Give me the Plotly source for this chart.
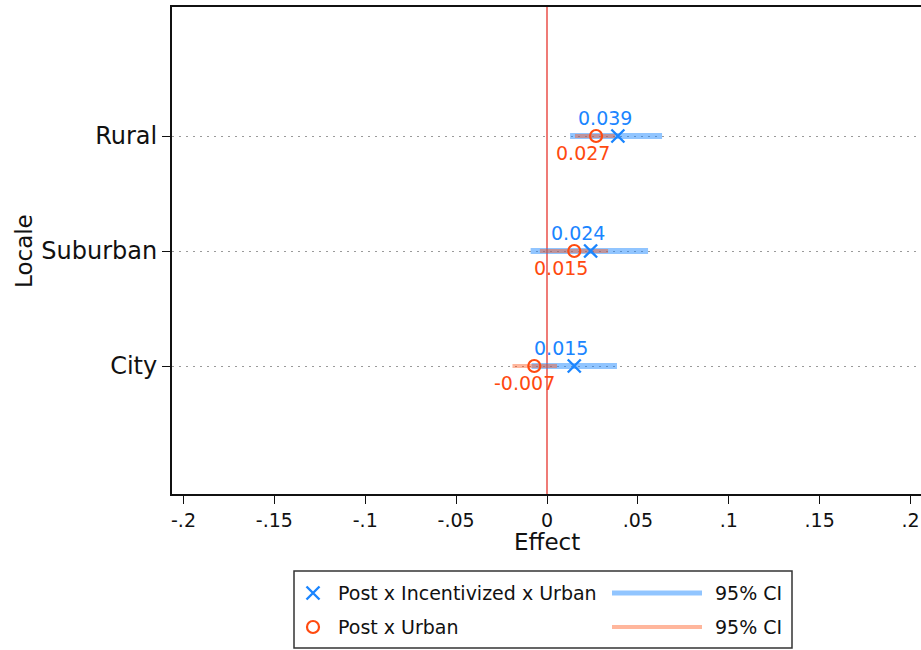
import plotly.graph_objects as go

# Coefficient estimates by locale, with 95% confidence bounds
locales = ["City", "Suburban", "Rural"]
locale_pos = [1, 2, 3]

incent_est = [0.015, 0.024, 0.039]
incent_lo = [-0.0085, -0.009, 0.0127]
incent_hi = [0.0385, 0.0556, 0.0633]

urban_est = [-0.007, 0.015, 0.027]
urban_lo = [-0.019, -0.0039, 0.0154]
urban_hi = [0.0055, 0.0336, 0.0374]

x_ticks = [-0.2, -0.15, -0.1, -0.05, 0, 0.05, 0.1, 0.15, 0.2]
x_tick_text = ["-.2", "-.15", "-.1", "-.05", "0", ".05", ".1", ".15", ".2"]
reference_x = 0

series_names = ["Post x Incentivized x Urban", "Post x Urban"]
ci_name = "95% CI"

BLUE = "#1a85ff"
BLUE_CI = "rgba(26,133,255,0.48)"
ORANGE = "#ff4a0f"
ORANGE_CI = "rgba(255,80,20,0.42)"
FONT = "DejaVu Sans"

W, H = 921, 650
# plot area in pixels
PL, PR, PT, PB = 172, 921, 7, 494


def segments(lo, hi, ys):
    xs, yy = [], []
    for a, b, y in zip(lo, hi, ys):
        xs += [a, b, None]
        yy += [y, y, None]
    return xs, yy


fig = go.Figure()

# vertical reference line at zero effect
fig.add_shape(type="line", xref="x", yref="y domain", x0=reference_x, x1=reference_x,
              y0=0, y1=1, line=dict(color="#e4241c", width=1.2), layer="below")

bx, by = segments(incent_lo, incent_hi, locale_pos)
fig.add_trace(go.Scatter(x=bx, y=by, mode="lines",
                         line=dict(color=BLUE_CI, width=6), hoverinfo="skip"))
ox, oy = segments(urban_lo, urban_hi, locale_pos)
fig.add_trace(go.Scatter(x=ox, y=oy, mode="lines",
                         line=dict(color=ORANGE_CI, width=4), hoverinfo="skip"))

fig.add_trace(go.Scatter(x=urban_est, y=locale_pos, mode="markers",
                         marker=dict(symbol="circle-open", size=12, color=ORANGE,
                                     line=dict(width=2.2, color=ORANGE))))
fig.add_trace(go.Scatter(x=incent_est, y=locale_pos, mode="markers",
                         marker=dict(symbol="x-thin-open", size=13, color=BLUE,
                                     line=dict(width=2.4, color=BLUE))))

# value labels
for v, y in zip(incent_est, locale_pos):
    fig.add_annotation(x=v, y=y, xref="x", yref="y", text=f"{v:.3f}",
                       showarrow=False, xanchor="left", yanchor="middle",
                       xshift=-42, yshift=18,
                       font=dict(family=FONT, size=19, color=BLUE))
for v, y in zip(urban_est, locale_pos):
    fig.add_annotation(x=v, y=y, xref="x", yref="y", text=f"{v:.3f}",
                       showarrow=False, xanchor="left", yanchor="middle",
                       xshift=-42, yshift=-17,
                       font=dict(family=FONT, size=19, color=ORANGE))

# legend, drawn on a pixel-scaled overlay axis
leg_rows = [593, 627]
fig.add_trace(go.Scatter(x=[313], y=[leg_rows[0]], xaxis="x2", yaxis="y2", mode="markers",
                         marker=dict(symbol="x-thin-open", size=13, color=BLUE,
                                     line=dict(width=2.4, color=BLUE))))
fig.add_trace(go.Scatter(x=[313], y=[leg_rows[1]], xaxis="x2", yaxis="y2", mode="markers",
                         marker=dict(symbol="circle-open", size=12, color=ORANGE,
                                     line=dict(width=2.2, color=ORANGE))))
fig.add_trace(go.Scatter(x=[612, 702], y=[leg_rows[0]] * 2, xaxis="x2", yaxis="y2", mode="lines",
                         line=dict(color=BLUE_CI, width=5)))
fig.add_trace(go.Scatter(x=[612, 702], y=[leg_rows[1]] * 2, xaxis="x2", yaxis="y2", mode="lines",
                         line=dict(color=ORANGE_CI, width=4)))
for name, ry in zip(series_names, leg_rows):
    fig.add_annotation(x=336, y=ry, xref="x2", yref="y2", text=name, showarrow=False,
                       xanchor="left", yanchor="middle",
                       font=dict(family=FONT, size=19, color="#111"))
    fig.add_annotation(x=784, y=ry, xref="x2", yref="y2", text=ci_name, showarrow=False,
                       xanchor="right", yanchor="middle",
                       font=dict(family=FONT, size=19, color="#111"))
fig.add_shape(type="rect", xref="x2", yref="y2", x0=294, x1=792, y0=571, y1=648,
              line=dict(color="#333", width=1.5), fillcolor="rgba(0,0,0,0)")

# axis titles
fig.add_annotation(x=547, y=542, xref="x2", yref="y2", text="Effect", showarrow=False,
                   xanchor="center", yanchor="middle",
                   font=dict(family=FONT, size=23, color="#111"))
fig.add_annotation(x=24, y=251, xref="x2", yref="y2", text="Locale", showarrow=False,
                   textangle=-90, xanchor="center", yanchor="middle",
                   font=dict(family=FONT, size=23, color="#111"))

x_min = (PL - 547) / 1817.5
x_max = (PR - 547) / 1817.5
y_min = 1 - (PB - 366) / 115
y_max = 1 + (366 - PT) / 115

fig.update_layout(
    width=W, height=H,
    margin=dict(l=0, r=0, t=0, b=0),
    paper_bgcolor="white", plot_bgcolor="rgba(0,0,0,0)",
    showlegend=False,
    font=dict(family=FONT, color="#111"),
    xaxis=dict(domain=[PL / W, PR / W], range=[x_min, x_max],
               tickvals=x_ticks, ticktext=x_tick_text,
               ticks="outside", ticklen=8, tickwidth=1.3, tickcolor="#111",
               tickfont=dict(family=FONT, size=19, color="#111"),
               showline=True, linecolor="#111", linewidth=2, mirror=True,
               showgrid=False, zeroline=False,
               automargin=False, anchor="y"),
    yaxis=dict(domain=[(H - PB) / H, (H - PT) / H], range=[y_min, y_max],
               tickvals=locale_pos, ticktext=locales,
               ticks="outside", ticklen=8, tickwidth=1.3, tickcolor="#111",
               tickfont=dict(family=FONT, size=24, color="#111"),
               showline=True, linecolor="#111", linewidth=2,
               showgrid=True, gridcolor="#9a9a9a", gridwidth=1, griddash="2px,5px",
               zeroline=False, automargin=False, anchor="x"),
    xaxis2=dict(domain=[0, 1], range=[0, W], visible=False, anchor="y2", fixedrange=True),
    yaxis2=dict(domain=[0, 1], range=[H, 0], visible=False, anchor="x2", fixedrange=True),
)

fig.write_html("out.html")
